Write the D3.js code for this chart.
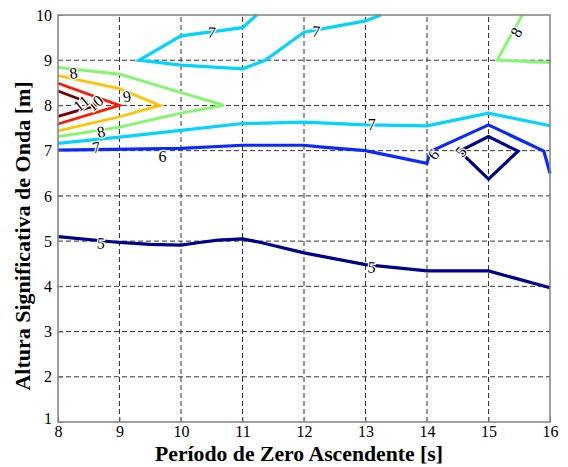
<!DOCTYPE html>
<html>
<head>
<meta charset="utf-8">
<script src="https://cdn.jsdelivr.net/npm/d3@7"></script>
<style>
  html, body { margin: 0; padding: 0; background: #fff; }
  svg { display: block; }
  text { font-family: "Liberation Serif", "Times New Roman", serif; }
</style>
</head>
<body>
<svg id="chart" width="568" height="467"></svg>
<script>
// Axis ticks
const xTicks = [8, 9, 10, 11, 12, 13, 14, 15, 16];
const yTicks = [1, 2, 3, 4, 5, 6, 7, 8, 9, 10];

// Contour lines: [period (s), height (m)] vertices, one array per segment
const c5main  = [[8,5.10],[9,4.97],[9.5,4.93],[10,4.91],[10.3,4.97],[10.6,5.02],[11,5.05],[11.3,4.97],[12,4.74],[13,4.48],[14,4.34],[15,4.34],[16,3.97]];
const c5loop  = [[14.53,6.99],[15,7.31],[15.48,6.99],[15,6.37],[14.53,6.99]];
const c6main  = [[8,7.01],[10,7.05],[11,7.12],[12,7.12],[12.3,7.08],[13,7.0],[14,6.72],[14.05,6.98],[15,7.57],[15.9,6.99],[16,6.50]];
const c7low   = [[8,7.16],[9,7.30],[10,7.45],[11,7.60],[12,7.63],[13,7.57],[14,7.55],[15,7.83],[16,7.55]];
const c7top   = [[11.23,10],[11,9.72],[10,9.54],[9.32,9.0],[10,8.89],[11,8.81],[11.37,9.0],[12,9.62],[13,9.87],[13.25,10]];
const c8left  = [[8,8.84],[9,8.69],[10.7,8.0],[10,7.83],[9,7.52],[8,7.31]];
const c8right = [[15.55,10],[15.14,9.0],[16,8.95]];
const c9      = [[8,8.66],[9,8.37],[9.66,8.0],[9,7.75],[8,7.44]];
const c10     = [[8,8.49],[9,8.0],[8,7.59]];
const c11     = [[8,8.32],[8.62,8.0],[8,7.76]];

const contourLevels = [5, 5, 6, 7, 7, 8, 8, 9, 10, 11];
const contourPaths  = [c5main, c5loop, c6main, c7low, c7top, c8left, c8right, c9, c10, c11];
const levelColors = {5: "#00008f", 6: "#0a28ff", 7: "#00d4ff", 8: "#80f86a", 9: "#ffc400", 10: "#ff1800", 11: "#7a0000"};

// Inline contour labels: position (period, height), text and rotation
const labelX   = [8.25, 8.7, 8.6, 8.38, 9.12, 8.62, 9.7, 8.7, 13.1, 10.5, 12.2, 15.45, 14.1, 14.55, 13.1];
const labelY   = [8.72, 7.42, 8.05, 8.05, 8.2, 7.08, 6.88, 4.96, 4.43, 9.62, 9.64, 9.62, 6.92, 6.98, 7.58];
const labelTxt = ["8", "8", "10", "11", "9", "7", "6", "5", "5", "7", "7", "8", "6", "5", "7"];
const labelRot = [-8, -12, -40, -40, -10, -10, 0, 5, 5, 5, 5, -60, -50, -50, 0];

const W = 568, H = 467;
const margin = {left: 58, right: 18, top: 15, bottom: 45};
const svg = d3.select("#chart");

const x = d3.scaleLinear().domain([8, 16]).range([margin.left, W - margin.right]);
const y = d3.scaleLinear().domain([1, 10]).range([H - margin.bottom, margin.top]);

// Dashed grid
const grid = svg.append("g");
grid.selectAll("line.vx").data(xTicks.slice(1, -1)).enter().append("line")
  .attr("x1", d => x(d)).attr("x2", d => x(d))
  .attr("y1", y(1)).attr("y2", y(10))
  .attr("stroke", "#333").attr("stroke-width", 1).attr("stroke-dasharray", "5,3");
grid.selectAll("line.hy").data(yTicks.slice(1, -1)).enter().append("line")
  .attr("x1", x(8)).attr("x2", x(16))
  .attr("y1", d => y(d)).attr("y2", d => y(d))
  .attr("stroke", "#333").attr("stroke-width", 1).attr("stroke-dasharray", "5,3");

// Contour lines
const line = d3.line().x(d => x(d[0])).y(d => y(d[1]));
svg.append("g").selectAll("path").data(contourPaths).enter().append("path")
  .attr("d", line)
  .attr("fill", "none")
  .attr("stroke", (d, i) => levelColors[contourLevels[i]])
  .attr("stroke-width", (d, i) => contourLevels[i] <= 7 ? 3.2 : 2.8)
  .attr("stroke-linejoin", "miter");

// Contour labels, with a white halo breaking the line underneath
const labels = svg.append("g");
labelTxt.forEach((t, i) => {
  labels.append("text")
    .attr("transform", `translate(${x(labelX[i])},${y(labelY[i])}) rotate(${labelRot[i]})`)
    .attr("text-anchor", "middle")
    .attr("dy", "0.35em")
    .attr("font-size", 16)
    .attr("fill", "#000")
    .attr("stroke", "#fff").attr("stroke-width", 2.5)
    .attr("paint-order", "stroke")
    .text(t);
});

// Frame
svg.append("rect")
  .attr("x", x(8)).attr("y", y(10))
  .attr("width", x(16) - x(8)).attr("height", y(1) - y(10))
  .attr("fill", "none").attr("stroke", "#808080").attr("stroke-width", 1.5);

// Axes
const xAxis = svg.append("g").attr("transform", `translate(0,${y(1)})`)
  .call(d3.axisBottom(x).tickValues(xTicks).tickSize(-5).tickPadding(4).tickFormat(d3.format("d")));
const yAxis = svg.append("g").attr("transform", `translate(${x(8)},0)`)
  .call(d3.axisLeft(y).tickValues(yTicks).tickSize(-5).tickPadding(6).tickFormat(d3.format("d")));
[xAxis, yAxis].forEach(a => {
  a.attr("font-family", null);
  a.select(".domain").remove();
  a.selectAll(".tick line").attr("stroke", "#808080");
  a.selectAll(".tick text").attr("font-size", 16).attr("fill", "#000");
});
yAxis.selectAll(".tick text").filter(d => d === 1).attr("dy", "0.1em");

// Axis titles
svg.append("text")
  .attr("x", 299).attr("y", 461)
  .attr("text-anchor", "middle")
  .attr("font-size", 21).attr("font-weight", "bold")
  .attr("textLength", 288).attr("lengthAdjust", "spacingAndGlyphs")
  .text("Período de Zero Ascendente [s]");
svg.append("text")
  .attr("transform", `translate(30,${236}) rotate(-90)`)
  .attr("text-anchor", "middle")
  .attr("font-size", 22).attr("font-weight", "bold")
  .text("Altura Significativa de Onda [m]");
</script>
</body>
</html>
